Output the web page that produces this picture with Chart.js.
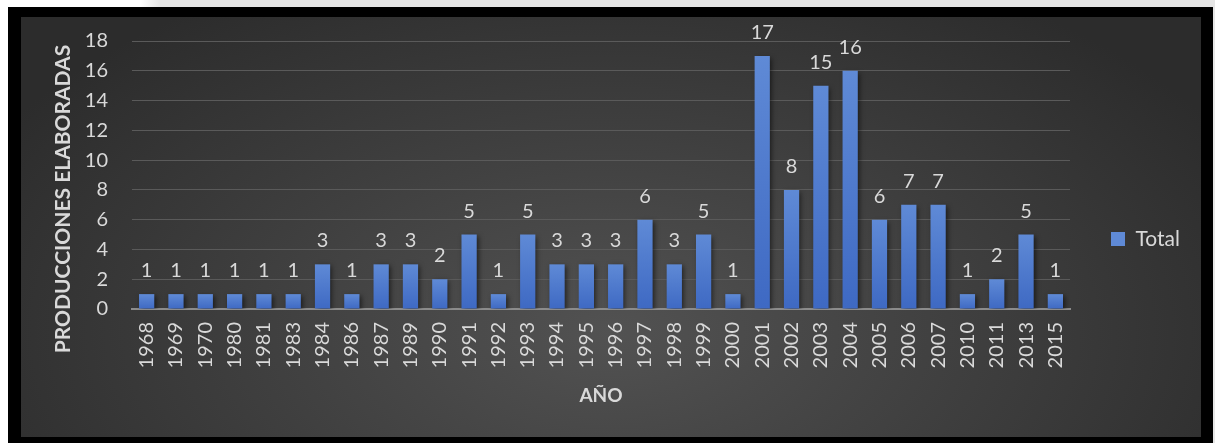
<!DOCTYPE html>
<html>
<head>
<meta charset="utf-8">
<script src="https://cdn.jsdelivr.net/npm/chart.js@4"></script>
<style>
  html, body { margin: 0; padding: 0; }
  body {
    width: 1215px; height: 443px; overflow: hidden;
    background: linear-gradient(to right, #ffffff 0, #ffffff 140px, #e6e6e6 160px);
    position: relative;
  }
  #frame {
    position: absolute; left: 8px; top: 7px;
    width: 1205px; height: 436px;
    background: #000;
  }
  #panel {
    position: absolute; left: 13px; top: 10px;
    width: 1180px; height: 420px;
    background: radial-gradient(ellipse 60% 95% at 50% 75%, #525252 0%, #414141 45%, #2c2c2c 100%);
  }
  canvas { display: block; }
</style>
</head>
<body>
<div id="frame">
  <div id="panel">
    <canvas id="prodChart" width="1180" height="420"></canvas>
  </div>
</div>
<script>
// Productions per year
const years = ['1968', '1969', '1970', '1980', '1981', '1983', '1984', '1986', '1987', '1989',
  '1990', '1991', '1992', '1993', '1994', '1995', '1996', '1997', '1998', '1999',
  '2000', '2001', '2002', '2003', '2004', '2005', '2006', '2007', '2010', '2011', '2013', '2015'];
const totals = [1, 1, 1, 1, 1, 1, 3, 1, 3, 3,
  2, 5, 1, 5, 3, 3, 3, 6, 3, 5,
  1, 17, 8, 15, 16, 6, 7, 7, 1, 2, 5, 1];
const yTicks = { min: 0, max: 18, step: 2 };

const textColor = '#d9d9d9';
const fontFamily = 'Lato, "Open Sans", sans-serif';

// Each bar gets its own light-to-dark gradient
function barFill(ctx) {
    if (ctx.type !== 'data') return '#4a78cf';
    const chart = ctx.chart;
    if (!chart.chartArea) return '#4a78cf';
    const y = chart.scales.y;
    const top = y.getPixelForValue(totals[ctx.dataIndex]);
    const base = y.getPixelForValue(0);
    const g = chart.ctx.createLinearGradient(0, top, 0, base);
    g.addColorStop(0, '#5f8ad6');
    g.addColorStop(1, '#3e69c3');
    return g;
}

// Shadow under the bars and value labels above them
const barExtras = {
    id: 'barExtras',
    beforeDatasetsDraw(chart) {
        const c = chart.ctx;
        c.save();
        c.shadowColor = 'rgba(0,0,0,0.55)';
        c.shadowBlur = 5;
        c.shadowOffsetX = 2;
        c.shadowOffsetY = 2;
    },
    afterDatasetsDraw(chart) {
        const c = chart.ctx;
        c.restore();
        const meta = chart.getDatasetMeta(0);
        c.save();
        c.fillStyle = textColor;
        c.font = '20px ' + fontFamily;
        c.textAlign = 'center';
        c.textBaseline = 'alphabetic';
        meta.data.forEach((bar, i) => {
            c.fillText(String(totals[i]), bar.x, bar.y - 17);
        });
        c.restore();
    }
};

// Vertical axis title, sitting a little below the middle of the plot
const yTitle = {
    id: 'yTitle',
    afterDraw(chart) {
        const area = chart.chartArea;
        const c = chart.ctx;
        c.save();
        c.translate(42, (area.top + area.bottom) / 2 + 24);
        c.rotate(-Math.PI / 2);
        c.fillStyle = textColor;
        c.font = 'bold 21px ' + fontFamily;
        c.textAlign = 'center';
        c.textBaseline = 'middle';
        c.fillText('PRODUCCIONES ELABORADAS', 0, 0);
        c.restore();
    }
};

const ctx = document.getElementById('prodChart').getContext('2d');
new Chart(ctx, {
    type: 'bar',
    data: {
        labels: years,
        datasets: [{
            label: 'Total',
            data: totals,
            backgroundColor: barFill,
            borderWidth: 0,
            categoryPercentage: 1,
            barPercentage: 0.52
        }]
    },
    options: {
        responsive: false,
        animation: false,
        layout: { padding: { top: 24, right: 11, bottom: 0, left: 0 } },
        plugins: {
            legend: {
                position: 'right',
                labels: {
                    color: textColor,
                    boxWidth: 14,
                    boxHeight: 14,
                    padding: 10,
                    font: { family: fontFamily, size: 21 }
                }
            },
            tooltip: { enabled: false }
        },
        scales: {
            x: {
                grid: { display: false, drawTicks: false },
                border: { display: true, color: '#8c8c8c', width: 2 },
                ticks: {
                    color: textColor,
                    font: { family: fontFamily, size: 20 },
                    minRotation: 90,
                    maxRotation: 90,
                    padding: 13,
                    autoSkip: false
                },
                title: {
                    display: true,
                    text: 'AÑO',
                    color: textColor,
                    font: { family: fontFamily, size: 19, weight: 'bold' },
                    padding: { top: 0, bottom: 30 }
                },
                afterFit(scale) { scale.height = 128; }
            },
            y: {
                min: yTicks.min,
                max: yTicks.max,
                grid: { color: '#5a5a5a', lineWidth: 1, drawTicks: false },
                border: { display: false },
                ticks: {
                    stepSize: yTicks.step,
                    color: textColor,
                    font: { family: fontFamily, size: 20 },
                    padding: 24
                },
                afterFit(scale) {
                    scale.width = 111;
                    // the wide label gap shouldn't push the plot down
                    scale.paddingTop = 12;
                    scale.paddingBottom = 12;
                }
            },
            // keeps a gap between the plot and the legend
            spacer: {
                type: 'linear',
                position: 'right',
                grid: { display: false, drawTicks: false },
                border: { display: false },
                ticks: { display: false },
                afterFit(scale) { scale.width = 31; }
            }
        }
    },
    plugins: [barExtras, yTitle]
});
</script>
</body>
</html>
